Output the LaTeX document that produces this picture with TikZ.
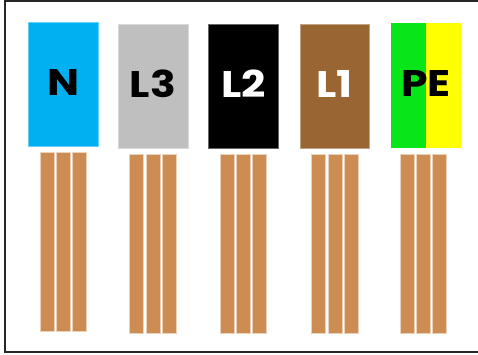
\documentclass[tikz,border=0pt]{standalone}
\usepackage{graphicx}
\usepackage{fontspec}
\setmainfont{Poppins}
\definecolor{ncyan}{RGB}{0,176,240}
\definecolor{lgray}{RGB}{191,191,191}
\definecolor{lbrown}{RGB}{153,102,51}
\definecolor{pegreen}{RGB}{8,230,26}
\definecolor{peyellow}{RGB}{255,255,0}
\definecolor{copper}{RGB}{205,140,82}
\newcommand{\widelabel}[1]{\scalebox{1.15}[1]{#1}}
\tikzset{
  wirebox/.style={minimum width=69.5pt, minimum height=124.5pt, inner sep=0pt,
    text height=26pt, text depth=4pt,
    font=\fontsize{37}{37}\selectfont\bfseries, line width=0.5pt},
  strip/.style={fill=copper, draw=copper!40!white, line width=0.5pt}
}
\begin{document}
\begin{tikzpicture}[x=1pt, y=-1pt]
    \useasboundingbox (0,0) rectangle (478,354);
    \clip (0,0) rectangle (478,354);
    \draw[line width=2pt, black!85] (5,1) rectangle (490,351.5);

    % colour blocks
    \node[wirebox, fill=ncyan, draw=ncyan!60!white] (n) at (63,84.3) {\widelabel{N}};
    \node[wirebox, fill=lgray, draw=lgray!60!white] (l3) at (153,86.2) {\widelabel{L3}};
    \node[wirebox, fill=black, draw=black!60!white, text=white] (l2) at (243.3,86) {\widelabel{L2}};
    \node[wirebox, fill=lbrown, draw=lbrown!60!white, text=white] (l1) at (334.8,86) {\widelabel{L1}};
    \fill[pegreen] (391.4,23.3) rectangle (426,147.7);
    \fill[peyellow] (426,23.3) rectangle (461,147.7);
    \node[wirebox] (pe) at (426.2,85.5) {\widelabel{PE}};

    % conductor strands
    \foreach \g/\y in {40/152.7, 129.7/154.7, 220/154.7, 311.7/154.7, 400/154.7}
        \foreach \i in {0, 1, 2}
            \draw[strip] (\g+\i*16.3, \y) rectangle ++(14, 178.8);
\end{tikzpicture}
\end{document}
